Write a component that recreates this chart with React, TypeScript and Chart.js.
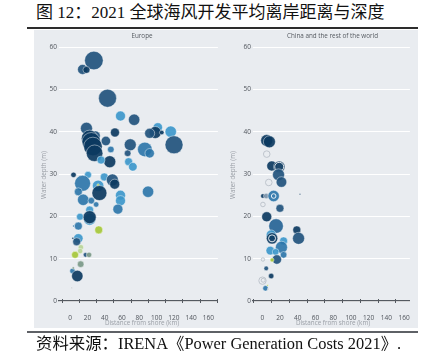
import React, { useEffect, useRef } from 'react';
import { Chart, registerables } from 'chart.js';
Chart.register(...registerables);

// ---- data ----
const distanceTicks = [0, 20, 40, 60, 80, 100, 120, 140, 160];
const depthTicks = [0, 10, 20, 30, 40, 50, 60];

// Europe: distance from shore (km), water depth (m), bubble radius, colour group
const europeX = [27.4, 14.3, 18.8, 43.2, 58.2, 74, 18.8, 51.8, 101.4, 98.4, 116.4, 92, 106,
  29, 22.5, 24.4, 26.3, 28.2, 41.3, 47, 45.8, 35.7, 69.5, 66.5, 67.6, 72.5, 86.4, 92, 120.2,
  3.8, 20.6, 14.3, 39.4, 48.8, 51.5, 32.3, 32.3, 33.8, 9.4, 90.1, 58.2, 58.2, 15, 24.4, 30, 55.2,
  22.5, 11.3, 22.5, 22.5, 9.4, 4, 33, 9.4, 7.5, 3, 12.4, 11.5, 5.6, 17.7, 21.8, 12.1, 2.6, 3.5, 8.2, 1.9];
const europeY = [56.8, 54.7, 54.6, 47.9, 43.7, 42.8, 40.8, 39.8, 41.0, 39.8, 40.0, 39.6, 39.8,
  39.0, 38.4, 37.6, 36.5, 34.9, 37.8, 35.8, 32.9, 33.3, 36.9, 34.9, 32.9, 31.7, 35.8, 34.9, 36.9,
  29.8, 29.8, 27.8, 29.3, 28.6, 27.6, 27.2, 27.4, 25.5, 25.8, 25.8, 25.0, 23.7, 23.9, 23.7, 22.8, 21.7,
  21.5, 19.9, 19.3, 19.8, 17.7, 17.7, 16.8, 14.8, 14.0, 14.8, 12.7, 11.8, 10.9, 10.9, 10.9, 8.7, 7.1, 7.8, 5.9, 3.1];
const europeR = [9.3, 5, 3.5, 9, 5, 5.7, 6, 4.5, 4.7, 6, 5.7, 5, 2.3,
  5, 8.3, 9.3, 9.3, 8.3, 4.7, 3.3, 6, 4, 6, 3.3, 4, 4.3, 7.3, 4.7, 9,
  2.7, 3.5, 8, 4, 6, 5, 5.7, 1.2, 7.5, 4, 5.7, 5, 5, 5.7, 3.3, 2.7, 5,
  4, 3.5, 6, 6.5, 4, 1, 4, 4.7, 4, 1, 2.7, 2.7, 3.5, 2.3, 2.7, 3.3, 2.7, 1.2, 5.7, 0.8];
const europeC = ['dark', 'dark', 'navy', 'dark', 'light', 'dark', 'dark', 'navy', 'light', 'navy', 'light', 'dark', 'navy',
  'dark', 'navy', 'navy', 'navy', 'navy', 'dark', 'medium', 'navy', 'light', 'dark', 'dark', 'light', 'light', 'medium', 'medium', 'dark',
  'navy', 'light', 'medium', 'light', 'dark', 'navy', 'light', 'yellow', 'navy', 'medium', 'medium', 'light', 'light', 'medium', 'medium', 'medium', 'medium',
  'light', 'light', 'light', 'navy', 'medium', 'medium', 'yellow', 'light', 'dark', 'navy', 'lightgreen', 'lightgreen', 'yellow', 'dark', 'graygreen', 'graygreen', 'medium', 'graygreen', 'navy', 'gray'];

// China and the rest of the world
const worldX = [5, 8, 5, 10.7, 19.1, 19.1, 18.3, 21.6, 7.3, 0.7, 4.4, 12.8, 12.8, 42.5, 0.7, 19.9, 5,
  15.5, 10, 11, 11, 38.9, 40.9, 24, 21.6, 9, 15, 24, 16.4, 11, 0.7, 4.4, 10, 0.2, 1, 3.6, 6, 6.5];
const worldY = [37.9, 37.6, 34.7, 31.9, 31.7, 31.7, 29.8, 28.1, 28.0, 24.8, 24.8, 24.8, 24.8, 25.2, 22.8, 21.9, 19.9,
  17.7, 15.6, 14.8, 14.8, 16.8, 14.8, 14.2, 12.7, 11.9, 11.6, 10.9, 9.8, 9.7, 9.8, 7.7, 5.9, 4.8, 4.9, 3.0, 3.7, 2.8];
const worldR = [6, 6, 3.3, 5, 5.7, 4.5, 6, 5.3, 3.3, 2.3, 2.7, 5.7, 2.3, 0.8, 2.3, 4, 5,
  7.3, 5, 5.7, 3.5, 4, 6, 4, 6, 4.3, 3.3, 3.3, 4.7, 2, 1.7, 2.3, 2.7, 3.7, 2, 2.7, 0.8, 0.8];
const worldC = ['navy', 'navy', 'empty', 'navy', 'navy', 'ring', 'dark', 'dark', 'empty', 'navy', 'grayblue', 'medium', 'ring', 'navy', 'empty', 'dark', 'navy',
  'mediumdark', 'light', 'navy', 'ring', 'navy', 'dark', 'light', 'medium', 'light', 'light', 'medium', 'dark', 'yellow', 'empty', 'dark', 'navy', 'empty', 'empty', 'medium', 'yellow', 'gray'];

// ---- styling ----
const FILL: Record<string, string> = {
  navy: 'rgba(12,57,97,0.92)',
  dark: 'rgba(33,82,125,0.92)',
  mediumdark: 'rgba(38,100,150,0.92)',
  medium: 'rgba(42,116,168,0.9)',
  light: 'rgba(58,150,202,0.9)',
  yellow: 'rgba(168,200,62,0.95)',
  lightgreen: 'rgba(184,212,150,0.9)',
  graygreen: 'rgba(125,155,138,0.95)',
  grayblue: 'rgba(120,145,168,0.9)',
  gray: 'rgba(175,180,187,0.9)',
  empty: 'rgba(0,0,0,0)',
  ring: 'rgba(0,0,0,0)',
};
const BORDER: Record<string, string> = {
  empty: 'rgba(190,196,204,1)',
  ring: 'rgba(255,255,255,0.85)',
};
const FONT = '"Open Sans", "DejaVu Sans", sans-serif';

const axisMarks = {
  id: 'axisMarks',
  afterDraw(chart: any) {
    const xs = chart.scales.x;
    const ctx = chart.ctx;
    const y = chart.chartArea.bottom;
    const vals = distanceTicks.map((v) => v - 10).concat([distanceTicks[distanceTicks.length - 1] + 10]);
    ctx.save();
    ctx.strokeStyle = '#555a61';
    ctx.lineWidth = 1;
    vals.forEach((v) => {
      if (v < xs.min || v > xs.max) return;
      const px = Math.round(xs.getPixelForValue(v)) + 0.5;
      ctx.beginPath();
      ctx.moveTo(px, y - 2);
      ctx.lineTo(px, y + 2);
      ctx.stroke();
    });
    ctx.restore();
  },
};

function makeConfig(xs: number[], ys: number[], rs: number[], cs: string[], xMin: number, xMax: number, padRight: number): any {
  const data = xs.map((x, i) => ({ x, y: ys[i], r: rs[i] }));
  return {
    type: 'bubble',
    data: {
      datasets: [{
        data,
        backgroundColor: cs.map((c) => FILL[c]),
        borderColor: cs.map((c) => BORDER[c] || 'rgba(255,255,255,0.55)'),
        borderWidth: cs.map((c) => (c === 'empty' || c === 'ring' ? 1 : 0.8)),
        clip: false,
      }],
    },
    plugins: [axisMarks],
    options: {
      animation: false,
      responsive: false,
      events: [],
      layout: { padding: { left: 0, right: padRight, top: 17, bottom: 0 } },
      plugins: { legend: { display: false }, tooltip: { enabled: false }, title: { display: false } },
      scales: {
        x: {
          type: 'linear',
          min: xMin,
          max: xMax,
          afterBuildTicks: (s: any) => { s.ticks = distanceTicks.map((v) => ({ value: v })); },
          afterFit: (s: any) => { s.height = 27; },
          grid: { display: false },
          border: { display: true, color: '#555a61', width: 1.2 },
          ticks: { padding: 5, color: '#50555c', font: { family: FONT, size: 6.5 }, maxRotation: 0, autoSkip: false },
        },
        y: {
          type: 'linear',
          min: 0,
          max: 60,
          afterBuildTicks: (s: any) => { s.ticks = depthTicks.map((v) => ({ value: v })); },
          afterFit: (s: any) => { s.width = 25; },
          grid: { color: '#ffffff', lineWidth: 1, drawTicks: false },
          border: { display: false },
          ticks: { padding: 2, color: '#50555c', font: { family: FONT, size: 6.5 } },
        },
      },
    },
  };
}

function BubbleChart(props: { xs: number[]; ys: number[]; rs: number[]; cs: string[]; xMin: number; xMax: number; padRight: number; left: number; width: number }) {
  const ref = useRef<HTMLCanvasElement | null>(null);
  useEffect(() => {
    if (!ref.current) return;
    const chart = new Chart(ref.current, makeConfig(props.xs, props.ys, props.rs, props.cs, props.xMin, props.xMax, props.padRight));
    return () => chart.destroy();
  }, []);
  return (
    <canvas
      ref={ref}
      width={props.width}
      height={298}
      style={{ position: 'absolute', left: props.left, top: 30, width: props.width, height: 298 }}
    />
  );
}

const centered = (x: number, y: number, extra: React.CSSProperties = {}): React.CSSProperties => ({
  position: 'absolute', left: x, top: y, transform: 'translate(-50%, -50%)', whiteSpace: 'nowrap', fontFamily: FONT, lineHeight: 1, ...extra,
});
const rotated = (x: number, y: number): React.CSSProperties => ({
  position: 'absolute', left: x, top: y, transform: 'translate(-50%, -50%) rotate(-90deg)', whiteSpace: 'nowrap',
  fontFamily: FONT, fontSize: 6.3, color: '#9a9fa6', lineHeight: 1,
});

export default function App() {
  return (
    <div style={{ position: 'absolute', left: 0, top: 0, width: 423, height: 356, background: '#ffffff', overflow: 'hidden' }}>
      <div style={{ position: 'absolute', left: 36, top: 3.5, fontSize: 17, lineHeight: 1, whiteSpace: 'nowrap', color: '#111',
        fontFamily: '"Liberation Serif", "Noto Sans CJK SC", serif' }}>
        图 12：2021 全球海风开发平均离岸距离与深度
      </div>
      <div style={{ position: 'absolute', left: 27, top: 27, width: 391, height: 1.5, background: '#2d2d2d' }} />
      <div style={{ position: 'absolute', left: 34, top: 30, width: 384, height: 298, background: '#e9ecf0' }} />
      <BubbleChart xs={europeX} ys={europeY} rs={europeR} cs={europeC} xMin={-13} xMax={171} padRight={6} left={34} width={194} />
      <BubbleChart xs={worldX} ys={worldY} rs={worldR} cs={worldC} xMin={-10.5} xMax={166.5} padRight={5} left={228} width={190} />
      <div style={centered(142, 36, { fontSize: 6.3, color: '#555a60' })}>Europe</div>
      <div style={centered(332.5, 36, { fontSize: 6.3, color: '#555a60' })}>China and the rest of the world</div>
      <div style={centered(142, 323, { fontSize: 6.3, color: '#9a9fa6' })}>Distance from shore (km)</div>
      <div style={centered(333, 323, { fontSize: 6.3, color: '#9a9fa6' })}>Distance from shore (km)</div>
      <div style={rotated(44, 175)}>Water depth (m)</div>
      <div style={rotated(233, 175)}>Water depth (m)</div>
      <div style={{ position: 'absolute', left: 27, top: 331, width: 391, height: 2, background: '#5e6166' }} />
      <div style={{ position: 'absolute', left: 36, top: 336, fontSize: 16.4, lineHeight: 1, whiteSpace: 'nowrap', color: '#111',
        fontFamily: '"Liberation Serif", "Noto Sans CJK SC", serif' }}>
        资料来源：IRENA《Power Generation Costs 2021》.
      </div>
    </div>
  );
}
